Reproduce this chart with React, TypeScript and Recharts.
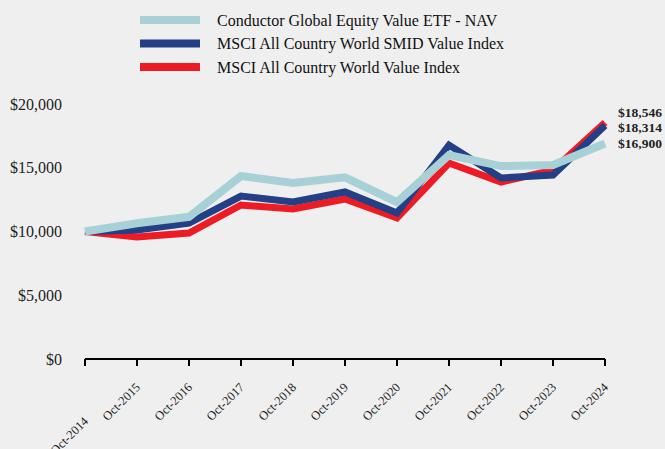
import { LineChart, Line, XAxis, YAxis, Legend } from "recharts";

const years = [
  "Oct-2014", "Oct-2015", "Oct-2016", "Oct-2017", "Oct-2018", "Oct-2019",
  "Oct-2020", "Oct-2021", "Oct-2022", "Oct-2023", "Oct-2024",
];
const etfNav = [10000, 10650, 11150, 14350, 13800, 14250, 12300, 16000, 15130, 15220, 16900];
const smidValue = [10000, 10120, 10660, 12780, 12310, 13100, 11450, 16780, 14200, 14430, 18314];
const acwiValue = [10000, 9570, 9880, 12080, 11760, 12550, 11060, 15370, 13880, 14820, 18546];
const yTicks = [0, 5000, 10000, 15000, 20000];

const FONT = "'Liberation Serif', 'Times New Roman', serif";

const series = [
  { key: "etf", name: "Conductor Global Equity Value ETF - NAV", color: "#a7d1d7", width: 8, labelDy: 4 },
  { key: "smid", name: "MSCI All Country World SMID Value Index", color: "#233f85", width: 7, labelDy: 7 },
  { key: "acwi", name: "MSCI All Country World Value Index", color: "#ed1c24", width: 7, labelDy: -5.5 },
];

const data = years.map((year, i) => ({
  year,
  etf: etfNav[i],
  smid: smidValue[i],
  acwi: acwiValue[i],
}));

const money = (v: number) => "$" + v.toLocaleString("en-US");

function YTick(props: any) {
  const { y, payload } = props;
  return (
    <text x={62} y={y} dy={5.5} textAnchor="end" fontFamily={FONT} fontSize={16} fill="#222">
      {money(payload.value)}
    </text>
  );
}

function XTick(props: any) {
  const { x, payload, index } = props;
  const ty = 388 + (index === 0 ? 34 : 0);
  const tx = x + 4;
  return (
    <text
      x={tx}
      y={ty}
      textAnchor="end"
      fontFamily={FONT}
      fontSize={12.5}
      fill="#222"
      transform={`rotate(-45 ${tx} ${ty})`}
    >
      {payload.value}
    </text>
  );
}

const endLabel = (dy: number) => (props: any) => {
  const { x, y, index, value } = props;
  if (index !== years.length - 1) return null;
  return (
    <text x={x + 13} y={y + dy} fontFamily={FONT} fontSize={13.5} fontWeight="bold" fill="#222">
      {money(value)}
    </text>
  );
};

function LegendBox() {
  return (
    <svg width={665} height={90}>
      {series.map((s, i) => (
        <g key={s.key}>
          <rect x={140} y={16 + i * 23.5} width={60} height={8} fill={s.color} />
          <text x={217} y={26 + i * 23.3} fontFamily={FONT} fontSize={16} fill="#111">
            {s.name}
          </text>
        </g>
      ))}
    </svg>
  );
}

export default function App() {
  const drawOrder = [series[2], series[1], series[0]];
  return (
    <div style={{ position: "absolute", left: 0, top: 0, width: 665, height: 449, background: "#efefef" }}>
      <LineChart width={665} height={449} data={data} margin={{ top: 14, right: 60, bottom: 0, left: 0 }}>
        <Legend
          verticalAlign="top"
          content={() => <LegendBox />}
          wrapperStyle={{ position: "absolute", top: 0, left: 0, width: 665, height: 90 }}
        />
        <XAxis
          dataKey="year"
          height={90}
          interval={0}
          axisLine={{ stroke: "#000", strokeWidth: 2 }}
          tickLine={{ stroke: "#000", strokeWidth: 2 }}
          tickSize={7}
          tick={<XTick />}
        />
        <YAxis
          width={85}
          domain={[0, 20000]}
          ticks={yTicks}
          axisLine={false}
          tickLine={false}
          tick={<YTick />}
        />
        {drawOrder.map((s) => (
          <Line
            key={s.key}
            dataKey={s.key}
            name={s.name}
            stroke={s.color}
            strokeWidth={s.width}
            strokeLinejoin="miter"
            strokeLinecap="butt"
            dot={false}
            activeDot={false}
            isAnimationActive={false}
            label={endLabel(s.labelDy)}
          />
        ))}
      </LineChart>
    </div>
  );
}
